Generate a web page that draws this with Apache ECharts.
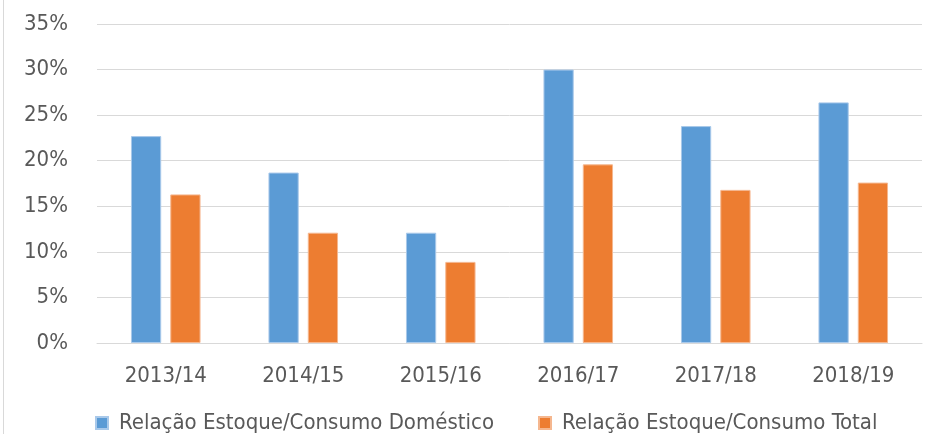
<!DOCTYPE html>
<html>
<head>
<meta charset="utf-8">
<script src="https://cdn.jsdelivr.net/npm/echarts@6/dist/echarts.min.js"></script>
<style>
  html, body { margin: 0; padding: 0; background: #fff; }
  #chart { width: 930px; height: 434px; }
</style>
</head>
<body>
<div id="chart"></div>
<script>
// safras e relações estoque/consumo (%)
const categories = ['2013/14', '2014/15', '2015/16', '2016/17', '2017/18', '2018/19'];
const domestico = [22.7, 18.7, 12.1, 30.0, 23.8, 26.4];
const total = [16.3, 12.1, 8.9, 19.6, 16.8, 17.6];
const seriesNames = ['Relação Estoque/Consumo Doméstico', 'Relação Estoque/Consumo Total'];

const font = '"Liberation Sans Narrow", "DejaVu Sans Condensed", "Roboto Condensed", sans-serif';
const textColor = '#595959';

const chart = echarts.init(document.getElementById('chart'));

chart.setOption({
  animation: false,
  color: ['#5B9BD5', '#ED7D31'],
  grid: { left: 97, right: 8, top: 24, bottom: 91 },
  legend: {
    top: 407,
    left: 90,
    itemWidth: 12,
    itemHeight: 12,
    itemGap: 44,
    icon: 'rect',
    textStyle: { fontFamily: font, fontSize: 22, color: textColor, padding: [0, 0, 0, 6] },
    data: seriesNames
  },
  xAxis: {
    type: 'category',
    data: categories,
    axisLine: { lineStyle: { color: '#d9d9d9' } },
    axisTick: { show: false },
    axisLabel: { fontFamily: font, fontSize: 22, color: textColor, margin: 22 }
  },
  yAxis: {
    type: 'value',
    min: 0,
    max: 35,
    interval: 5,
    axisLine: { show: false },
    axisTick: { show: false },
    splitLine: { lineStyle: { color: '#d9d9d9', width: 1 } },
    axisLabel: { fontFamily: font, fontSize: 22, color: textColor, margin: 29, formatter: '{value}%' }
  },
  series: [
    {
      name: seriesNames[0],
      type: 'bar',
      data: domestico,
      barWidth: '22%',
      barGap: '30%',
      itemStyle: { borderColor: '#a9c9ea', borderWidth: 1 }
    },
    {
      name: seriesNames[1],
      type: 'bar',
      data: total,
      barWidth: '22%',
      barGap: '30%',
      itemStyle: { borderColor: '#f5b78f', borderWidth: 1 }
    }
  ],
  graphic: [
    {
      type: 'line',
      shape: { x1: 3.5, y1: 0, x2: 3.5, y2: 434 },
      style: { stroke: '#d9d9d9', lineWidth: 1 }
    }
  ]
});
</script>
</body>
</html>
